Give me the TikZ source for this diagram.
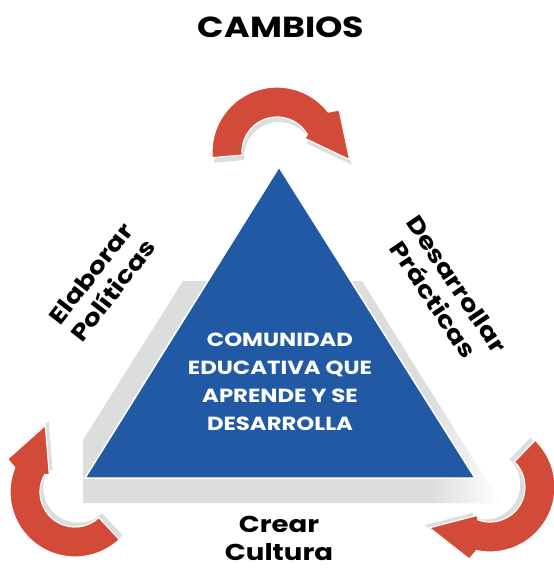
\documentclass[tikz,border=0pt]{standalone}
\usepackage{fontspec}
\setmainfont{Poppins}[FakeStretch=1.2]
\usetikzlibrary{fadings}

\definecolor{cycleRed}{HTML}{D24A38}
\definecolor{pyramidBlue}{HTML}{2259A5}
\definecolor{shadowGray}{HTML}{DCDDDD}

% outline of one curved arrow, tail angle as argument
\newcommand{\arrowoutline}[1]{(#1:65) arc[start angle=#1, end angle=38, radius=65] -- (34:75) -- (-6:73) -- (26:31) -- (30:35) arc[start angle=30, end angle=#1, radius=35] -- cycle}

\tikzset{
  label text/.style={font=\bfseries\fontsize{23}{28}\selectfont, align=center, inner sep=1pt},
  inner text/.style={font=\bfseries\fontsize{19}{28}\selectfont, align=center, text=white},
  pics/cyclearrow/.style={code={
    \fill[shadowGray, shift={(2,-5)}] \arrowoutline{#1};
    \fill[cycleRed, draw=white, line width=1.2pt] \arrowoutline{#1};
  }}
}

\begin{document}
\begin{tikzpicture}[x=1pt, y=1pt]
  \useasboundingbox (0,0) rectangle (554,-568);

  % gray block behind the pyramid
  \fill[shadowGray] (183,-281) -- (362,-281) -- (500,-503) -- (83,-503) -- (83,-440) -- cycle;
  \shade[left color=shadowGray, right color=white] (430,-390) -- (500,-503) -- (430,-503) -- cycle;

  % pyramid
  \fill[pyramidBlue, draw=white, line width=1.5pt] (85,-478) -- (279,-167) -- (475,-478) -- cycle;

  % arrows
  \pic at (277,-152) {cyclearrow=185};
  \pic[rotate=120] at (75,-492) {cyclearrow=193};
  \pic[rotate=-140] at (490,-487) {cyclearrow=186};

  % texts
  \node[label text, font=\bfseries\fontsize{29}{30}\selectfont] (cambios) at (281,-27) {CAMBIOS};
  \node[label text, rotate=52] (politicas) at (102,-282) {Elaborar\\Políticas};
  \node[label text, rotate=-56] (practicas) at (445,-292) {Desarrollar\\Prácticas};
  \node[label text] (cultura) at (279,-538) {Crear\\Cultura};
  \node[inner text] (comunidad) at (280,-382) {COMUNIDAD\\EDUCATIVA QUE\\APRENDE Y SE\\DESARROLLA};
\end{tikzpicture}
\end{document}
